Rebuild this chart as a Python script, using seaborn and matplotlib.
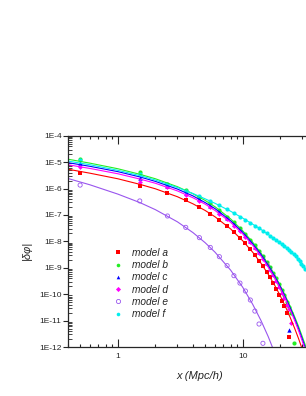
import numpy as np
import matplotlib
matplotlib.use("Agg")
import matplotlib.pyplot as plt
from matplotlib.lines import Line2D
from matplotlib.ticker import LogLocator, FuncFormatter, NullFormatter
import seaborn as sns

# data, values kept as log10(|dphi|)
x_pts = [0.5, 1.5, 2.5, 3.5, 4.5, 5.5, 6.5, 7.5, 8.5, 9.5, 10.5, 11.5, 12.5, 13.5, 14.5, 15.5,
         16.5, 17.5, 18.5, 19.5, 20.5, 21.5, 22.5, 23.5, 24.5, 25.5, 26.5, 27.5, 28.5, 29.5, 30.5, 31.5]
x_line = [0.4, 0.6, 1, 1.5, 2, 3, 4, 5, 6, 8, 10, 12, 14, 16, 18, 20, 22, 24, 26, 28, 30, 32]

a_pts = [-5.40, -5.92, -6.17, -6.42, -6.69, -6.95, -7.18, -7.41, -7.64, -7.86, -8.07, -8.28, -8.52,
         -8.73, -8.95, -9.15, -9.35, -9.57, -9.80, -10.03, -10.25, -10.45, -10.72, -11.62]
b_pts = [-4.87, -5.39, -5.82, -6.05, -6.32, -6.56, -6.80, -7.06, -7.27, -7.49, -7.71, -7.93, -8.14,
         -8.35, -8.56, -8.77, -8.97, -9.18, -9.40, -9.62, -9.83, -10.05, -10.28, -10.50, -10.73, -11.83]
c_pts = [-5.05, -5.61, -5.89, -6.16, -6.41, -6.65, -6.88, -7.11, -7.34, -7.55, -7.77, -7.98, -8.20,
         -8.40, -8.61, -8.82, -9.02, -9.22, -9.45, -9.68, -9.90, -10.12, -10.38, -11.35]
d_pts = [-5.17, -5.74, -5.96, -6.23, -6.48, -6.71, -6.95, -7.17, -7.40, -7.61, -7.83, -8.04, -8.25,
         -8.46, -8.67, -8.87, -9.07, -9.28, -9.51, -9.73, -9.95, -10.16, -10.40, -10.56, -11.08]
e_pts = [-5.87, -6.47, -7.04, -7.47, -7.86, -8.23, -8.58, -8.92, -9.30, -9.58, -9.88, -10.22, -10.64,
         -11.13, -11.86]
f_pts = [-4.92, -5.46, -5.83, -6.08, -6.30, -6.48, -6.64, -6.79, -6.93, -7.06, -7.18, -7.30, -7.40,
         -7.50, -7.60, -7.69, -7.78, -7.87, -7.95, -8.03, -8.11, -8.18, -8.26, -8.33, -8.41, -8.49,
         -8.57, -8.66, -8.75, -8.84, -8.93, -9.03]

a_line = [-5.27, -5.42, -5.63, -5.84, -6.01, -6.31, -6.58, -6.83, -7.07, -7.53, -7.98, -8.41, -8.83,
          -9.25, -9.66, -10.07, -10.48, -10.89, -11.29, -11.69, -12.10, -12.49]
b_line = [-4.89, -5.04, -5.25, -5.46, -5.63, -5.93, -6.20, -6.45, -6.69, -7.15, -7.60, -8.03, -8.45,
          -8.87, -9.28, -9.69, -10.08, -10.47, -10.85, -11.23, -11.62, -11.99]
c_line = [-5.02, -5.16, -5.36, -5.56, -5.73, -6.02, -6.28, -6.53, -6.76, -7.22, -7.66, -8.09, -8.50,
          -8.92, -9.32, -9.73, -10.13, -10.53, -10.92, -11.31, -11.71, -12.09]
d_line = [-5.10, -5.24, -5.44, -5.64, -5.80, -6.09, -6.35, -6.59, -6.83, -7.28, -7.72, -8.15, -8.56,
          -8.98, -9.38, -9.79, -10.19, -10.60, -10.99, -11.39, -11.79, -12.18]
e_line = [-5.62, -5.86, -6.21, -6.53, -6.80, -7.26, -7.67, -8.05, -8.41, -9.09, -9.74, -10.38, -11.00,
          -11.61, -12.22]
f_line = [-4.96, -5.10, -5.31, -5.51, -5.68, -5.96, -6.19, -6.39, -6.56, -6.86, -7.12, -7.35, -7.55,
          -7.74, -7.91, -8.07, -8.22, -8.37, -8.53, -8.70, -8.88, -9.08]

labels = ["model a", "model b", "model c", "model d", "model e", "model f"]
colors = ["#ff0000", "#22ee22", "#0000ff", "#ff00ff", "#9955ee", "#00eeee"]
markers = ["s", "o", "^", "D", "o", "o"]
sizes = [8, 9, 10, 6, 9, 9]
points = [a_pts, b_pts, c_pts, d_pts, e_pts, f_pts]
lines = [a_line, b_line, c_line, d_line, e_line, f_line]

sns.set_style("ticks")
plt.rcParams["font.family"] = ["Liberation Sans", "DejaVu Sans"]

fig = plt.figure(figsize=(3.06, 3.96), dpi=100)
ax = fig.add_axes([68 / 306, 49 / 396, 250 / 306, 211.3 / 396])
ax.set_xscale("log")
ax.set_yscale("log")

for lab, col, mk, sz, pts, ln in zip(labels, colors, markers, sizes, points, lines):
    sns.lineplot(x=x_line[:len(ln)], y=10.0 ** np.array(ln), color=col, lw=0.8, ax=ax)
    if lab == "model e":
        sns.scatterplot(x=x_pts[:len(pts)], y=10.0 ** np.array(pts), marker=mk, s=sz,
                        facecolor="none", edgecolor=col, linewidth=0.6, ax=ax)
    else:
        sns.scatterplot(x=x_pts[:len(pts)], y=10.0 ** np.array(pts), marker=mk, s=sz,
                        color=col, linewidth=0, ax=ax)

ax.set_xlim(0.4, 40)
ax.set_ylim(1e-12, 1e-4)

ax.yaxis.set_major_locator(LogLocator(base=10, numticks=20))
ax.yaxis.set_minor_locator(LogLocator(base=10, subs=np.arange(2, 10), numticks=20))
ax.yaxis.set_major_formatter(FuncFormatter(lambda v, p: "1E%d" % round(np.log10(v))))
ax.yaxis.set_minor_formatter(NullFormatter())
ax.xaxis.set_major_formatter(FuncFormatter(lambda v, p: "%g" % v))
ax.xaxis.set_minor_formatter(NullFormatter())

ax.tick_params(axis="x", which="both", direction="in", top=True, labelsize=6, pad=4, width=0.8)
ax.tick_params(axis="x", which="major", length=5.5)
ax.tick_params(axis="x", which="minor", length=2.5)
ax.tick_params(axis="y", which="major", direction="out", length=3.8, labelsize=6, pad=0.8, width=0.8)
ax.tick_params(axis="y", which="minor", direction="in", length=2.8, width=0.6)
for s in ["left", "bottom", "top"]:
    ax.spines[s].set_linewidth(0.9)
ax.spines["right"].set_visible(False)

ax.set_xlabel("x (Mpc/h)", fontsize=8, style="italic", va="center")
ax.xaxis.set_label_coords(0.527, -0.136)
ax.set_ylabel("|δφ|", fontsize=8, style="italic", va="center")
ax.yaxis.set_label_coords(-0.164, 0.459)

handles = []
for lab, col, mk in zip(labels, colors, markers):
    if lab == "model e":
        h = Line2D([], [], ls="none", marker=mk, ms=3.0, mfc="none", mec=col, mew=0.6)
    else:
        h = Line2D([], [], ls="none", marker=mk, ms=2.6, mfc=col, mec=col, mew=0)
    handles.append(h)
ax.legend(handles, labels, loc="upper left", bbox_to_anchor=(0.18, 0.4685), frameon=False,
          prop={"family": "Liberation Sans", "style": "italic", "size": 7.3},
          handlelength=1.0, handletextpad=0.9, labelspacing=0.22, borderpad=0, borderaxespad=0)

fig.savefig("out.png", dpi=100)
